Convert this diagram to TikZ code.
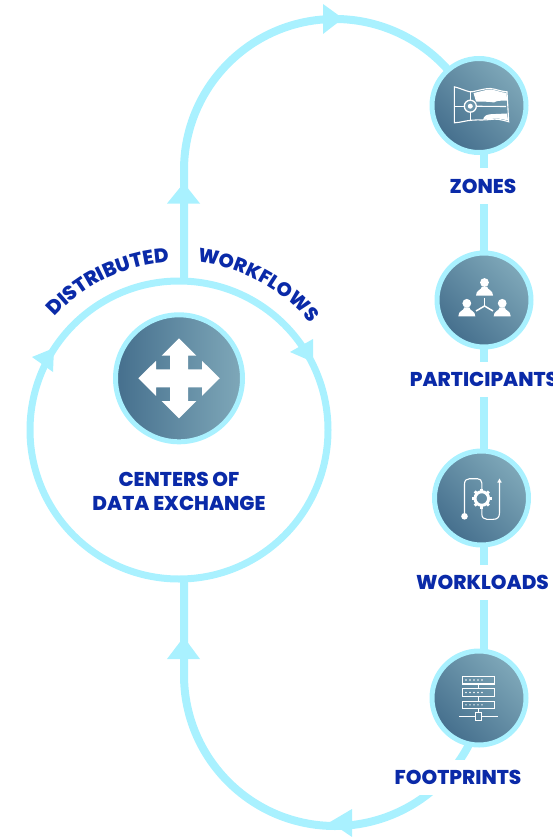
\documentclass[tikz,border=0pt]{standalone}
\usepackage{fontspec}
\setmainfont{Poppins ExtraBold}
\usetikzlibrary{decorations.text,calc,backgrounds}
\definecolor{ringc}{HTML}{A9F1FF}
\definecolor{navy}{HTML}{0A2AA8}
\definecolor{gdark}{HTML}{456F8D}
\definecolor{glight}{HTML}{7FA8B9}
\tikzset{
 x=1pt,y=-1pt,
 medal/.style={circle,draw=ringc,line width=5pt,minimum size=94pt,inner sep=0pt,outer sep=0pt,
   shading=axis,left color=gdark,right color=glight,shading angle=135},
 lbl/.style={fill=white,text=navy,font=\fontsize{20}{22}\selectfont,inner sep=0pt,minimum height=35pt,text depth=0pt,anchor=center},
 flow/.style={draw=ringc,line width=8pt},
 tip/.style={fill=ringc},
 ico/.style={draw=white,line width=1.1pt,fill=none},
 icofill/.style={fill=white,draw=none},
}
\newcommand{\personicon}[2]{%
 \fill[white] (#1,#2) circle[radius=4.4];
 \fill[white] ($(#1,#2)+(-8.5,13)$) .. controls ($(#1,#2)+(-8.5,7)$) and ($(#1,#2)+(-3,8)$) .. ($(#1,#2)+(-2.5,4)$) -- ($(#1,#2)+(2.5,4)$) .. controls ($(#1,#2)+(3,8)$) and ($(#1,#2)+(8.5,7)$) .. ($(#1,#2)+(8.5,13)$) -- cycle;}
\begin{document}
\begin{tikzpicture}
\useasboundingbox (0,0) rectangle (552,837);
% rings and medals
\node[circle,draw=ringc,line width=7pt,minimum size=298pt,inner sep=0pt,outer sep=0pt] (cycle) at (179,430) {};
\node[circle,draw=ringc,line width=5pt,minimum size=127pt,inner sep=0pt,outer sep=0pt,shading=axis,left color=gdark,right color=glight] (hub) at (179,378.3) {};
\node[medal] (zones) at (479,105.5) {};
\node[medal] (participants) at (484,300) {};
\node[medal] (workloads) at (481.5,498) {};
\node[medal] (footprints) at (479,698) {};
% labels
\node[lbl] (lz) at (483,186) {ZONES};
\node[lbl] (lp) at (484,379) {PARTICIPANTS};
\node[lbl] (lw) at (482.5,582.5) {WORKLOADS};
\node[lbl] (lf) at (458,777.5) {FOOTPRINTS};
\node[text=navy,font=\fontsize{20}{22}\selectfont,inner sep=0pt] (c1) at (179,479.5) {CENTERS OF};
\node[text=navy,font=\fontsize{20}{22}\selectfont,inner sep=0pt] (c2) at (179,503) {DATA EXCHANGE};
% connectors behind everything
\begin{pgfonlayer}{background}
\draw[flow] (participants |- zones) -- (participants);
\draw[flow] (participants) -- (participants |- workloads);
\draw[flow] (participants |- workloads) -- (participants |- footprints);
\coordinate (topstart) at (184,280);
\coordinate (topbend) at (184,170);
\draw[flow] (topstart) -- (topbend) arc[start angle=180,end angle=40,radius=151pt];
\coordinate (botstart) at (184,580);
\coordinate (botbend) at (184,675);
\draw[flow] (botstart) -- (botbend) arc[start angle=180,end angle=340,radius=151pt];
\end{pgfonlayer}
% arrowheads
\fill[tip] (183.7,183) -- (167,203.5) -- (200,203.5) -- cycle;
\fill[tip] (343,18.5) -- (323,4) -- (323,34) -- cycle;
\fill[tip] (183.7,637) -- (167,659) -- (200,659) -- cycle;
\fill[tip] (330,822) -- (352,809) -- (352,837) -- cycle;
\fill[tip] (313,362) -- (313,339) -- (290,352) -- cycle;
\fill[tip] (54,348) -- (32,357) -- (53,372) -- cycle;
% curved text
\path[decorate,decoration={text along path,text align=center,
  text={|\fontsize{20}{22}\selectfont\color{navy}|DISTRIBUTED}}]
  ($(cycle)+(-139:168)$) arc[start angle=139,end angle=92,radius=168pt];
\path[decorate,decoration={text along path,text align=center,
  text={|\fontsize{19.4}{22}\selectfont\color{navy}|WORKFLOWS}}]
  ($(cycle)+(-85:169)$) arc[start angle=85,end angle=38,radius=169pt];
% hub icon
\begin{scope}[shift={(hub)}]
\fill[white] (0,-40)--(17.3,-22.7)--(9,-22.7)--(9,-9)--(23,-9)--(23,-17.5)--(40.7,0)--(23,17.5)--(23,9)--(9,9)--(9,22.7)--(17.3,22.7)--(0,40)--(-17.3,22.7)--(-9,22.7)--(-9,9)--(-23,9)--(-23,17.5)--(-40.7,0)--(-23,-17.5)--(-23,-9)--(-9,-9)--(-9,-22.7)--(-17.3,-22.7)--cycle;
\end{scope}
% zones icon
\begin{scope}[shift={(zones)}]
\draw[ico] (-24.7,-18.7) .. controls (-15,-16) and (-10,-13) .. (-7,-13.7) .. controls (0,-15) and (5,-17) .. (11.3,-17) .. controls (17,-16.5) and (22,-14) .. (28,-13.7) -- (29.7,16.3) .. controls (22,14) and (17,13) .. (11.3,14) .. controls (5,15) and (0,14) .. (-7,14.7) .. controls (-13,15) and (-18,17) .. (-24.7,17.3) -- cycle;
\fill[white] (-5.5,-12.5) .. controls (2,-14) and (7,-16) .. (11.3,-16) .. controls (17,-15.5) and (22,-13) .. (27.5,-12.5) -- (28,-5) .. controls (20,-5) and (17,-4.5) .. (15,-3) .. controls (10,-4) and (0,-4) .. (-3,-4) -- cycle;
\fill[white] (4,14.2) .. controls (5,10) and (8,9) .. (12,8.7) -- (28,8) -- (29,15) .. controls (22,13) and (17,12.5) .. (11.3,13.5) -- cycle;
\draw[ico] (-8.7,-14.5) -- (-8.7,15);
\draw[ico] (-24.7,0.7) -- (-8.7,0.7);
\draw[ico] (-8.7,0.7) -- (27,1);
\filldraw[draw=white,fill=gdark!35!glight,line width=1.3pt] (-8.7,0.7) circle[radius=6];
\fill[white] (-8.7,0.7) circle[radius=2.5];
\end{scope}
% participants icon
\begin{scope}[shift={(participants)}]
\personicon{0.5}{-17.5}
\personicon{-17.2}{3.3}
\personicon{18.2}{3.3}
\draw[white,line width=1.5pt] (0.5,-2) -- (0.5,6);
\draw[white,line width=1.5pt] (0.5,6) -- (-8,11);
\draw[white,line width=1.5pt] (0.5,6) -- (9,11);
\end{scope}
% workloads icon
\begin{scope}[shift={(workloads)}]
\fill[white] (-17,18.3) circle[radius=3.3];
\draw[ico] (-17,18) -- (-17,-14) .. controls (-17,-17.5) and (-15,-19.3) .. (-12,-19.3) -- (-4,-19.3) .. controls (-1.5,-19.3) and (0.3,-17.5) .. (0.3,-15) -- (0.3,-9);
\draw[ico] (0.3,10) -- (0.3,16) .. controls (0.3,19.5) and (2.5,21.3) .. (5.3,21.3) -- (12,21.3) .. controls (16,21.3) and (18,19) .. (18,15) -- (18,-16);
\fill[white] (18,-19.5) -- (15.8,-15.5) -- (20.2,-15.5) -- cycle;
\draw[white,line width=3pt] (0.3,0.5) circle[radius=6.8];
\foreach \a in {0,45,...,315}{\draw[white,line width=2.8pt] ($(0.3,0.5)+(\a:7.5)$) -- ($(0.3,0.5)+(\a:10)$);}
\end{scope}
% footprints icon
\begin{scope}[shift={(footprints)}]
\draw[ico] (-16.2,-21.8) rectangle (15.2,-14);
\draw[ico] (-16.2,-9.2) rectangle (15.2,-1.8);
\draw[ico] (-16.2,3.2) rectangle (15.2,10.5);
\draw[ico] (-0.5,-14) -- (-0.5,-9.2);
\draw[ico] (-0.5,-1.8) -- (-0.5,3.2);
\draw[ico] (-0.5,10.5) -- (-0.5,14.8);
\draw[ico] (-20,18.2) -- (-3.8,18.2);
\draw[ico] (2.8,18.2) -- (19,18.2);
\draw[ico] (-3.8,14.8) rectangle (2.8,22.2);
\foreach \yy in {-18,-5.5,6.8}{\foreach \xx in {-13,-9,-5,-1,3}{\fill[white] (\xx,\yy) circle[radius=0.8];}}
\end{scope}
\end{tikzpicture}
\end{document}
